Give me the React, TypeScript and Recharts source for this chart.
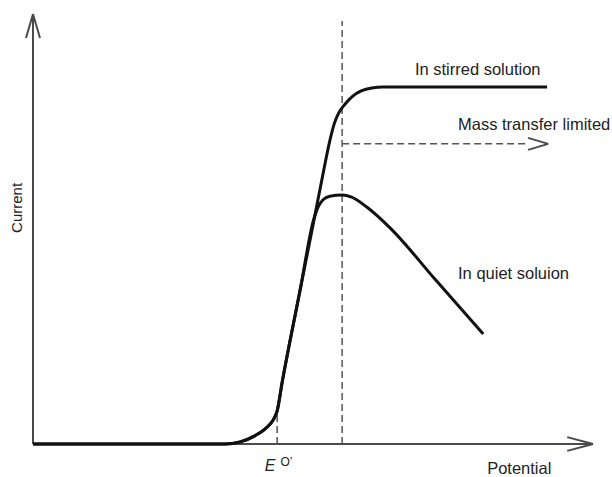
import React from "react";
import { LineChart, Line, XAxis, YAxis, ReferenceLine, ReferenceDot } from "recharts";

// Schematic voltammogram, arbitrary units (potential 0–100, current 0–100)
const stirredPotential = [0, 34.3, 37.0, 39.6, 41.6, 42.9, 43.6, 44.5, 47.7, 50.0, 52.1, 53.0, 53.8, 54.6, 55.7, 57.0, 58.6, 60.5, 62.5, 91.8];
const stirredCurrent = [0, 0, 0.5, 1.9, 3.7, 5.6, 7.7, 14.4, 35.8, 50.9, 64.9, 70.5, 74.5, 77.0, 79.0, 80.8, 82.1, 82.8, 83.0, 83.0];

const quietPotential = [0, 34.3, 37.0, 39.6, 41.6, 42.9, 43.6, 44.5, 47.7, 50.1, 50.9, 51.8, 53.0, 55.2, 56.9, 59.6, 63.8, 72.0, 80.4];
const quietCurrent = [0, 0, 0.5, 1.9, 3.7, 5.6, 7.7, 14.4, 35.8, 52.1, 55.1, 56.8, 57.6, 57.9, 57.4, 55.1, 50.2, 38.0, 25.6];

const formalPotential = 43.6; // E°'
const limitingPotential = 55.2;
const massTransferCurrent = 69.8;

const stirred = stirredPotential.map((x, i) => ({ x, y: stirredCurrent[i] }));
const quiet = quietPotential.map((x, i) => ({ x, y: quietCurrent[i] }));

const FONT = '"Liberation Sans", Arial, Helvetica, sans-serif';
const AXIS = "#4a4a4a";
const DASH = "#555";

type Lbl = { x: number; y: number; text: string };
const labels: Lbl[] = [
  { x: 68.2, y: 85.8, text: "In stirred solution" },
  { x: 75.9, y: 73.0, text: "Mass transfer limited" },
  { x: 75.9, y: 38.4, text: "In quiet soluion" },
  { x: 81.1, y: -7.0, text: "Potential" },
];

const textShape = (text: string) => (props: any) => (
  <text x={props.cx} y={props.cy} fontFamily={FONT} fontSize={16.5} fill="#222">
    {text}
  </text>
);

export default function App() {
  return (
    <div style={{ position: "absolute", left: 0, top: 0, background: "#fff" }}>
      <LineChart width={612} height={477} margin={{ top: 14, right: 19, left: 33, bottom: 33 }}>
        <XAxis type="number" dataKey="x" domain={[0, 100]} hide />
        <YAxis type="number" dataKey="y" domain={[0, 100]} hide />

        {/* axes with open arrowheads */}
        <ReferenceLine segment={[{ x: 0, y: 0 }, { x: 100, y: 0 }]} stroke={AXIS} strokeWidth={2} ifOverflow="visible" />
        <ReferenceLine segment={[{ x: 95.4, y: 1.6 }, { x: 100, y: 0 }]} stroke={AXIS} strokeWidth={2} ifOverflow="visible" />
        <ReferenceLine segment={[{ x: 95.4, y: -1.6 }, { x: 100, y: 0 }]} stroke={AXIS} strokeWidth={2} ifOverflow="visible" />
        <ReferenceLine segment={[{ x: 0, y: 0 }, { x: 0, y: 100 }]} stroke={AXIS} strokeWidth={2} ifOverflow="visible" />
        <ReferenceLine segment={[{ x: -1.25, y: 94.4 }, { x: 0, y: 100 }]} stroke={AXIS} strokeWidth={2} ifOverflow="visible" />
        <ReferenceLine segment={[{ x: 1.25, y: 94.4 }, { x: 0, y: 100 }]} stroke={AXIS} strokeWidth={2} ifOverflow="visible" />

        {/* guide lines */}
        <ReferenceLine segment={[{ x: formalPotential, y: 0 }, { x: formalPotential, y: 7.7 }]} stroke={DASH} strokeWidth={1.5} strokeDasharray="7 4" ifOverflow="visible" />
        <ReferenceLine segment={[{ x: limitingPotential, y: 0 }, { x: limitingPotential, y: 98.4 }]} stroke={DASH} strokeWidth={1.5} strokeDasharray="7 4" ifOverflow="visible" />
        <ReferenceLine segment={[{ x: limitingPotential, y: massTransferCurrent }, { x: 88.4, y: massTransferCurrent }]} stroke={DASH} strokeWidth={1.5} strokeDasharray="7 4" ifOverflow="visible" />
        <ReferenceLine segment={[{ x: 88.4, y: 71.2 }, { x: 92, y: massTransferCurrent }]} stroke={AXIS} strokeWidth={1.8} ifOverflow="visible" />
        <ReferenceLine segment={[{ x: 88.4, y: 68.4 }, { x: 92, y: massTransferCurrent }]} stroke={AXIS} strokeWidth={1.8} ifOverflow="visible" />

        <Line data={quiet} dataKey="y" type="monotone" stroke="#111" strokeWidth={3} dot={false} isAnimationActive={false} />
        <Line data={stirred} dataKey="y" type="monotone" stroke="#111" strokeWidth={3} dot={false} isAnimationActive={false} />

        {labels.map((l) => (
          <ReferenceDot key={l.text} x={l.x} y={l.y} r={0} ifOverflow="visible" shape={textShape(l.text)} />
        ))}
        <ReferenceDot
          x={-1.9}
          y={54.9}
          r={0}
          ifOverflow="visible"
          shape={(p: any) => (
            <text x={p.cx} y={p.cy} transform={`rotate(-90 ${p.cx} ${p.cy})`} textAnchor="middle" fontFamily={FONT} fontSize={15} fill="#222">
              Current
            </text>
          )}
        />
        <ReferenceDot
          x={41.4}
          y={-6.3}
          r={0}
          ifOverflow="visible"
          shape={(p: any) => (
            <text x={p.cx} y={p.cy} fontFamily={FONT} fill="#222">
              <tspan fontSize={16} fontStyle="italic">E</tspan>
              <tspan fontSize={12} dx={5} dy={-5}>O’</tspan>
            </text>
          )}
        />
      </LineChart>
    </div>
  );
}
